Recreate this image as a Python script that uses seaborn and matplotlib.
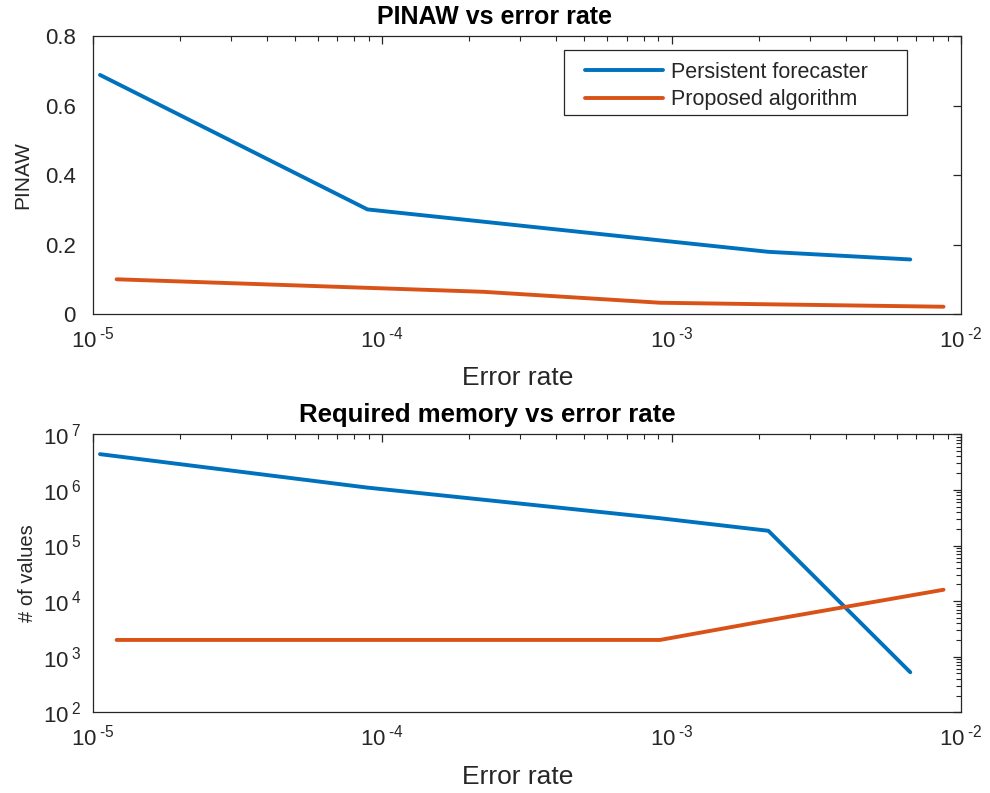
import numpy as np
import pandas as pd
import matplotlib
matplotlib.use("Agg")
import matplotlib.pyplot as plt
from matplotlib.patches import Rectangle
from matplotlib.ticker import FuncFormatter, LogLocator, NullFormatter
import seaborn as sns

# ---- data ----
series_names = ["Persistent forecaster", "Proposed algorithm"]

pf_err = [1.06e-5, 8.9e-5, 9.1e-4, 2.16e-3, 6.68e-3]
pf_pinaw = [0.688, 0.301, 0.212, 0.179, 0.157]
pf_mem = [4.4e6, 1.1e6, 3.1e5, 1.84e5, 525]

pa_err_top = [1.21e-5, 2.23e-4, 9.12e-4, 2.16e-3, 8.7e-3]
pa_pinaw = [0.100, 0.064, 0.0325, 0.028, 0.021]
pa_err_bot = [1.21e-5, 9.12e-4, 2.16e-3, 8.7e-3]
pa_mem = [2000, 2000, 4500, 16000]

titles = ["PINAW vs error rate", "Required memory vs error rate"]
xlabel = "Error rate"
ylabels = ["PINAW", "# of values"]
pinaw_ticks = [0, 0.2, 0.4, 0.6, 0.8]
pinaw_ticklabels = ["0", "0.2", "0.4", "0.6", "0.8"]

colors = {"Persistent forecaster": "#0072BD", "Proposed algorithm": "#D95319"}

df_top = pd.concat([
    pd.DataFrame({"err": pf_err, "val": pf_pinaw, "series": series_names[0]}),
    pd.DataFrame({"err": pa_err_top, "val": pa_pinaw, "series": series_names[1]}),
])
df_bot = pd.concat([
    pd.DataFrame({"err": pf_err, "val": pf_mem, "series": series_names[0]}),
    pd.DataFrame({"err": pa_err_bot, "val": pa_mem, "series": series_names[1]}),
])

sns.set_style("white")
plt.rcParams["font.family"] = ["Liberation Sans", "DejaVu Sans"]
plt.rcParams["mathtext.fontset"] = "custom"
plt.rcParams["mathtext.rm"] = "Liberation Sans"
plt.rcParams["mathtext.it"] = "Liberation Sans:italic"
plt.rcParams["mathtext.bf"] = "Liberation Sans:bold"


def pow10(v, pos):
    e = int(round(np.log10(v)))
    if e < 0:
        return r"$\mathregular{10^{\;\text{-}%d}}$" % (-e)
    return r"$\mathregular{10^{\;%d}}$" % e


fig = plt.figure(figsize=(9.9, 7.93), dpi=100)
ax1 = fig.add_axes([0.0936, 0.604, 0.9707 - 0.0936, 0.9546 - 0.604])
ax2 = fig.add_axes([0.0936, 0.1018, 0.9707 - 0.0936, 0.4523 - 0.1018])

edge = "#262626"
for ax, df in [(ax1, df_top), (ax2, df_bot)]:
    sns.lineplot(data=df, x="err", y="val", hue="series", palette=colors,
                 linewidth=2.8, ax=ax, sort=False, estimator=None,
                 legend=(ax is ax1))
    ax.set_xscale("log")
    ax.set_xlim(1e-5, 1e-2)
    ax.xaxis.set_major_locator(LogLocator(base=10, numticks=10))
    ax.xaxis.set_major_formatter(FuncFormatter(pow10))
    ax.xaxis.set_minor_formatter(NullFormatter())
    ax.set_xlabel(xlabel, fontsize=19, color=edge, labelpad=10)
    ax.xaxis.label.set_x(0.49)
    for s in ax.spines.values():
        s.set_visible(True)
        s.set_color(edge)
        s.set_linewidth(0.9)
    ax.tick_params(which="both", direction="in", top=True, right=True,
                   colors=edge, labelsize=16, labelcolor=edge)
    ax.tick_params(which="major", length=6, width=0.9)
    ax.tick_params(which="minor", length=3.5, width=0.8)
    ax.tick_params(axis="x", pad=9)

ax1.set_ylim(0, 0.8)
ax1.set_yticks(pinaw_ticks)
ax1.set_yticklabels(pinaw_ticklabels)
ax1.set_ylabel(ylabels[0], fontsize=15, color=edge, labelpad=9)
ax1.set_title(titles[0], fontsize=18, fontweight="bold", color="black",
              pad=9, x=0.463)
ax1.tick_params(axis="y", pad=12)

# legend: text and handles without frame, box drawn as a plain rectangle
leg = ax1.legend(loc="upper left", bbox_to_anchor=(0.567, 0.907), fontsize=15.5,
                 frameon=False, handlelength=3.6,
                 borderpad=0.0, labelspacing=0.3, handletextpad=0.4,
                 borderaxespad=0.0)
for h in leg.get_lines():
    h.set_linewidth(2.8)
ax1.add_patch(Rectangle((0.543, 0.716), 0.938 - 0.543, 0.95 - 0.716,
                        transform=ax1.transAxes, fill=True, facecolor="white",
                        edgecolor=edge, linewidth=0.9, zorder=4))
leg.set_zorder(5)

ax2.set_yscale("log")
ax2.set_ylim(1e2, 1e7)
ax2.yaxis.set_major_locator(LogLocator(base=10, numticks=10))
ax2.yaxis.set_major_formatter(FuncFormatter(pow10))
ax2.yaxis.set_minor_formatter(NullFormatter())
ax2.set_ylabel(ylabels[1], fontsize=14.5, color=edge, labelpad=4)
ax2.set_title(titles[1], fontsize=18.5, fontweight="bold", color="black",
              pad=9, x=0.455)
ax2.tick_params(axis="y", pad=8)

fig.savefig("out.png", dpi=100)
